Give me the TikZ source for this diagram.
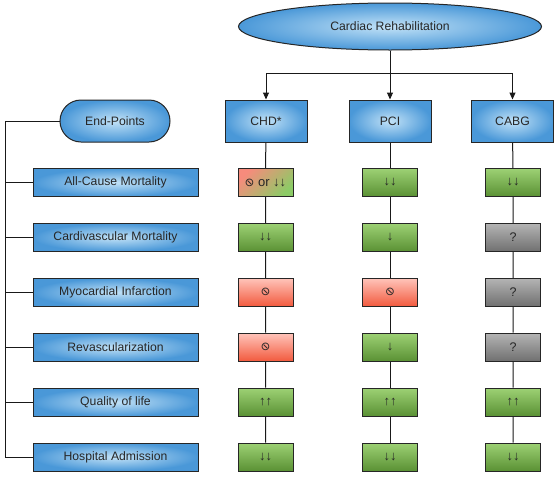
\documentclass[tikz,border=0pt]{standalone}
\usepackage{fontspec}
\usepackage{graphicx}
\setmainfont{Liberation Sans}
\newfontfamily\symfont{DejaVu Sans}
\usetikzlibrary{arrows.meta,shapes.geometric,shapes.misc}
\definecolor{bluein}{HTML}{C2E2F7}
\definecolor{blueout}{HTML}{4A98D8}
\definecolor{gtop}{HTML}{9DD174}
\definecolor{gbot}{HTML}{5A9134}
\definecolor{rtop}{HTML}{FFC4BA}
\definecolor{rbot}{HTML}{F25A3E}
\definecolor{ytop}{HTML}{B4B4B4}
\definecolor{ybot}{HTML}{707070}
\definecolor{mixr}{HTML}{F78B7C}
\definecolor{mixg}{HTML}{8CCB66}
\newcommand{\nosym}{{\symfont\fontsize{11.5}{12}\selectfont\scalebox{-1}[1]{⊘}}}
\tikzset{
  base/.style={draw=black!85, line width=1pt, inner sep=0pt, align=center, text=black!85},
  bluebox/.style={base, inner color=bluein, outer color=blueout},
  topbox/.style={bluebox, minimum width=82pt, minimum height=42pt, font=\fontsize{12.2}{14}\selectfont},
  leftbox/.style={bluebox, minimum width=165pt, minimum height=28pt, font=\fontsize{12.2}{14}\selectfont},
  res/.style={base, minimum width=55pt, minimum height=28pt, font=\fontsize{13}{14}\selectfont},
  green/.style={res, top color=gtop, bottom color=gbot},
  red/.style={res, top color=rtop, bottom color=rbot},
  grey/.style={res, top color=ytop, bottom color=ybot, font=\fontsize{12.5}{14}\selectfont},
  mix/.style={res, top color=mixr, bottom color=mixg, shading angle=45, font=\fontsize{13}{14}\selectfont},
  conn/.style={line width=1pt, draw=black!90},
  arr/.style={conn, -{Triangle[length=7pt,width=6pt]}}
}
\begin{document}
\begin{tikzpicture}[x=1pt,y=-1pt]
\useasboundingbox (0,0) rectangle (560,477);
% header
\node[bluebox, ellipse, minimum width=303pt, minimum height=47pt, font=\fontsize{12.2}{14}\selectfont] (cr) at (390,26.5) {Cardiac Rehabilitation};
\node[topbox] (chd) at (266,121) {CHD*};
\node[topbox] (pci) at (390,121) {PCI};
\node[topbox] (cabg) at (512.5,121) {CABG};
\node[bluebox, rounded rectangle, minimum width=110pt, minimum height=42pt, font=\fontsize{12.2}{14}\selectfont] (ep) at (115,121) {End-Points};
% left boxes
\foreach \i/\t [evaluate=\i as \y using 182.5+54.9*(\i-1)] in
  {1/All-Cause Mortality,2/Cardivascular Mortality,3/Myocardial Infarction,4/Revascularization,5/Quality of life,6/Hospital Admission}
  \node[leftbox] (l\i) at (115.5,\y) {\t};
% results
\def\ya{182.5}\def\yb{237.4}\def\yc{292.3}\def\yd{347.2}\def\ye{402.1}\def\yf{457}
\node[mix] (a1) at (265.5,\ya) {\nosym\ or ↓↓};
\node[green] (a2) at (265.5,\yb) {↓↓};
\node[red] (a3) at (265.5,\yc) {\nosym};
\node[red] (a4) at (265.5,\yd) {\nosym};
\node[green] (a5) at (265.5,\ye) {↑↑};
\node[green] (a6) at (265.5,\yf) {↓↓};
\node[green] (b1) at (390,\ya) {↓↓};
\node[green] (b2) at (390,\yb) {↓};
\node[red] (b3) at (390,\yc) {\nosym};
\node[green] (b4) at (390,\yd) {↓};
\node[green] (b5) at (390,\ye) {↑↑};
\node[green] (b6) at (390,\yf) {↓↓};
\node[green] (c1) at (513,\ya) {↓↓};
\node[grey] (c2) at (513,\yb) {?};
\node[grey] (c3) at (513,\yc) {?};
\node[grey] (c4) at (513,\yd) {?};
\node[green] (c5) at (513,\ye) {↑↑};
\node[green] (c6) at (513,\yf) {↓↓};
% connectors
\coordinate (jy) at (0,73);
\coordinate (lt) at (5,121);
\draw[arr] (cr.south) -- (pci.north);
\draw[conn] (chd.north |- jy) -- (cabg.north |- jy);
\draw[arr] (chd.north |- jy) -- (chd.north);
\draw[arr] (cabg.north |- jy) -- (cabg.north);
\draw[conn] (ep.west) -- (lt) |- (l6.west);
\foreach \i in {1,...,5} \draw[conn] (lt) |- (l\i.west);
\draw[conn] (chd) -- (a1) -- (a2) -- (a3) -- (a4) -- (a5) -- (a6);
\draw[conn] (pci) -- (b1) -- (b2) -- (b3) -- (b4) -- (b5) -- (b6);
\draw[conn] (cabg) -- (c1) -- (c2) -- (c3) -- (c4) -- (c5) -- (c6);
\end{tikzpicture}
\end{document}
